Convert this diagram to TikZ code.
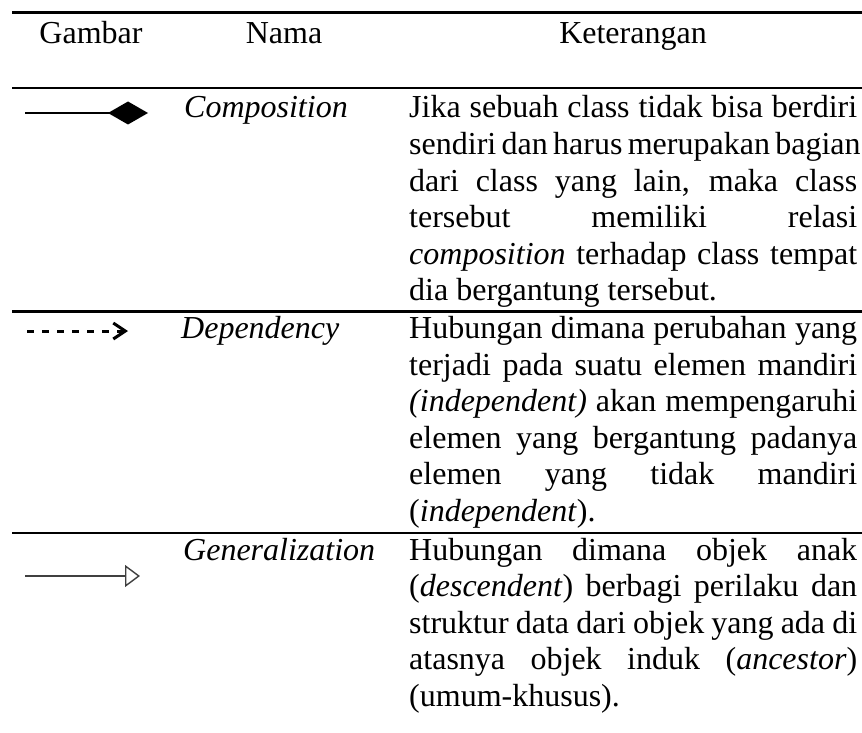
\documentclass[tikz,border=0pt]{standalone}
\usepackage{fontspec}
\setmainfont{Liberation Serif}
\usetikzlibrary{arrows.meta}
\newlength\descw
\setlength\descw{448pt}
\newcommand\jline[1]{\hbox to \descw{#1}}
\newcommand\lline[1]{\hbox{#1}}
\tikzset{
  body/.style={inner sep=0pt, font=\fontsize{32}{36.6}\selectfont},
  hdr/.style={body, anchor=base},
  nama/.style={body, anchor=base west, font=\fontsize{32}{36.6}\selectfont\itshape},
  desc/.style={body, anchor=base west},
  rule/.style={line width=2.5pt, black},
  compo/.style={line width=2pt, -{Diamond[length=40pt, width=23pt]}},
  depend/.style={line width=3pt, dash pattern=on 7pt off 8pt, -{Straight Barb[length=12pt, width=16pt, line width=3pt]}},
  gener/.style={line width=1.4pt, black!75, -{Triangle[open, length=15pt, width=22pt, line width=1.4pt]}}
}
\begin{document}
\begin{tikzpicture}[x=1pt, y=-1pt]
\useasboundingbox (0,0) rectangle (862,733);
\fill[white] (0,0) rectangle (862,733);
% rules
\draw[rule] (12,12.7) -- (862,12.7);
\draw[rule] (12,88) -- (862,88);
\draw[rule] (12,311.5) -- (862,311.5);
\draw[rule] (12,533) -- (862,533);
% header
\node[hdr] (hg) at (91,44) {Gambar};
\node[hdr] (hn) at (284,44) {Nama};
\node[hdr] (hk) at (633,44) {Keterangan};
% symbols
\coordinate (c1) at (25,113);
\coordinate (c2) at (148,113);
\draw[compo] (c1) -- (c2);
\coordinate (d1) at (27,331);
\coordinate (d2) at (128,331);
\draw[depend] (d1) -- (d2);
\coordinate (g1) at (25,576);
\coordinate (g2) at (140,576);
\draw[gener] (g1) -- (g2);
% names
\node[nama] (n1) at (184,118) {Composition};
\node[nama] (n2) at (181,338.5) {Dependency};
\node[nama] (n3) at (183,560) {Generalization};
% descriptions
\node[desc] (k1) at (409,118) {\parbox[t]{\descw}{%
\jline{Jika sebuah class tidak bisa berdiri}
\jline{sendiri dan harus merupakan bagian}
\jline{dari class yang lain, maka class}
\jline{tersebut memiliki relasi}
\jline{\textit{composition} terhadap class tempat}
\lline{dia bergantung tersebut.}}};
\node[desc] (k2) at (409,338.5) {\parbox[t]{\descw}{%
\jline{Hubungan dimana perubahan yang}
\jline{terjadi pada suatu elemen mandiri}
\jline{\textit{(independent)} akan mempengaruhi}
\jline{elemen yang bergantung padanya}
\jline{elemen yang tidak mandiri}
\lline{(\textit{independent}).}}};
\node[desc] (k3) at (409,560) {\parbox[t]{\descw}{%
\jline{Hubungan dimana objek anak}
\jline{(\textit{descendent}) berbagi perilaku dan}
\jline{struktur data dari objek yang ada di}
\jline{atasnya objek induk (\textit{ancestor})}
\lline{(umum-khusus).}}};
\end{tikzpicture}
\end{document}
